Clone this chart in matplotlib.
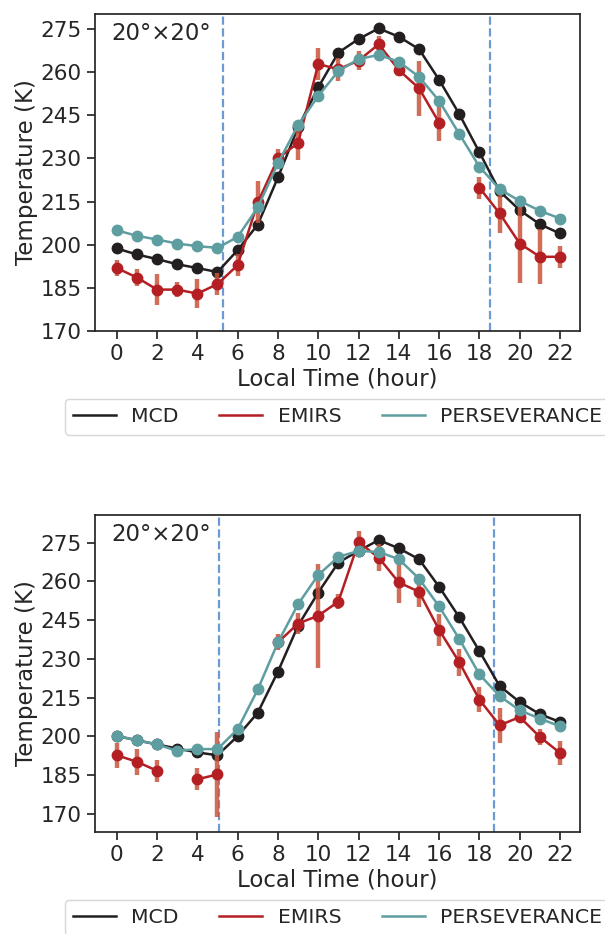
import numpy as np
import matplotlib
matplotlib.use("Agg")
import matplotlib.pyplot as plt
from matplotlib.lines import Line2D

nan = np.nan
hours = np.arange(23)

# top panel
mcd_top = [198.7, 196.6, 195.0, 193.2, 191.9, 190.5, 198.1, 207.0, 223.4, 240.8, 254.7, 266.8,
           271.5, 275.2, 272.3, 268.0, 257.3, 245.4, 232.1, 218.6, 212.0, 207.1, 203.9]
per_top = [205.0, 203.1, 201.8, 200.4, 199.5, 198.9, 202.7, 213.0, 228.3, 241.6, 251.7, 260.4,
           264.5, 266.0, 263.6, 258.4, 250.0, 238.5, 227.1, 219.3, 215.2, 211.8, 209.1]
emi_top = [191.9, 188.6, 184.4, 184.4, 183.0, 186.3, 192.9, 214.7, 230.0, 235.4, 262.8, 261.0,
           264.0, 269.7, 260.7, 254.4, 242.4, nan, 219.8, 210.9, 200.4, 195.8, 195.8]
err_top = [2.9, 2.8, 5.3, 2.7, 5.1, 3.9, 3.8, 7.3, 3.1, 6.1, 5.5, 4.0,
           3.2, 3.0, 2.0, 9.5, 6.2, nan, 3.9, 7.0, 13.8, 9.6, 3.8]
sun_top = [5.29, 18.54]

# bottom panel
mcd_bot = [200.2, 198.5, 196.9, 195.3, 193.8, 192.7, 200.1, 209.2, 225.1, 242.9, 255.7, 267.3,
           271.8, 276.0, 272.8, 268.6, 257.9, 246.1, 233.0, 219.5, 213.3, 208.6, 205.6]
per_bot = [200.2, 198.5, 196.9, 194.4, 195.1, 195.1, 202.8, 218.2, 236.4, 251.2, 262.5, 269.5,
           271.8, 271.4, 268.6, 261.1, 250.3, 237.7, 224.0, 215.6, 210.1, 206.9, 203.9]
emi_bot = [192.7, 190.2, 186.7, nan, 183.4, 185.3, nan, nan, 236.4, 243.7, 246.7, 252.2,
           275.2, 269.2, 259.6, 256.0, 241.2, 228.7, 214.2, 204.3, 207.5, 199.8, 193.6]
err_bot = [4.8, 5.1, 4.2, nan, 4.3, 16.6, nan, nan, 3.1, 4.0, 20.2, 2.9,
           4.2, 5.1, 7.9, 5.8, 6.1, 5.3, 4.9, 6.7, 2.0, 3.1, 4.8]
sun_bot = [5.09, 18.74]

label_text = "20°×20°"
yticks = [170, 185, 200, 215, 230, 245, 260, 275]
xticks = list(range(0, 23, 2))

c_mcd = "#231f20"
c_emi = "#b41f24"
c_err = "#c8553d"
c_per = "#5f9ea0"
c_sun = "#6b9bd2"
dark = "#262626"

plt.rcParams.update({
    "font.family": "DejaVu Sans",
    "font.size": 15.5,
    "xtick.labelsize": 15.5,
    "ytick.labelsize": 15.5,
    "axes.labelsize": 16.5,
    "text.color": dark,
    "axes.labelcolor": dark,
    "axes.edgecolor": dark,
    "axes.linewidth": 1.25,
    "xtick.color": dark,
    "ytick.color": dark,
    "xtick.major.width": 1.25,
    "ytick.major.width": 1.25,
    "xtick.major.size": 6,
    "ytick.major.size": 6,
})

fig = plt.figure(figsize=(6.05, 9.34), dpi=100)
ax1 = fig.add_axes([0.157, 0.6456, 0.802, 0.3394])
ax2 = fig.add_axes([0.157, 0.1092, 0.802, 0.3394])


def panel(ax, mcd, emi, err, per, sun, ylim):
    ax.plot(hours, mcd, color=c_mcd, lw=1.8, marker="o", ms=7.5, zorder=3)
    ax.errorbar(hours, emi, yerr=err, fmt="none", ecolor=c_err, elinewidth=3.2,
                alpha=0.85, capsize=0, zorder=4)
    ax.plot(hours, emi, color=c_emi, lw=1.8, marker="o", ms=7.5, zorder=5)
    ax.plot(hours, per, color=c_per, lw=1.8, marker="o", ms=7.5, zorder=6)
    for s in sun:
        ax.axvline(s, color=c_sun, ls="--", lw=1.6, zorder=2)
    ax.set_xlim(-1.08, 23.0)
    ax.set_ylim(*ylim)
    ax.set_xticks(xticks)
    ax.set_yticks(yticks)
    ax.set_xlabel("Local Time (hour)", labelpad=2.5)
    ax.set_ylabel("Temperature (K)", labelpad=2)
    ax.text(0.034, 0.975, label_text, transform=ax.transAxes, fontsize=16.5,
            va="top", ha="left")
    handles = [Line2D([], [], color=c_mcd, lw=1.8),
               Line2D([], [], color=c_emi, lw=1.8),
               Line2D([], [], color=c_per, lw=1.8)]
    leg = ax.legend(handles, ["MCD", "EMIRS", "PERSEVERANCE"], loc="upper center",
                    bbox_to_anchor=(0.5, -0.183), ncol=3, fontsize=14.7,
                    handlelength=2.1, handletextpad=0.75, columnspacing=2.0,
                    frameon=True, fancybox=True)
    leg.get_frame().set_edgecolor("#cccccc")


panel(ax1, mcd_top, emi_top, err_top, per_top, sun_top, (170, 280.2))
panel(ax2, mcd_bot, emi_bot, err_bot, per_bot, sun_bot, (163, 285.7))

fig.savefig("out.png", dpi=100)
